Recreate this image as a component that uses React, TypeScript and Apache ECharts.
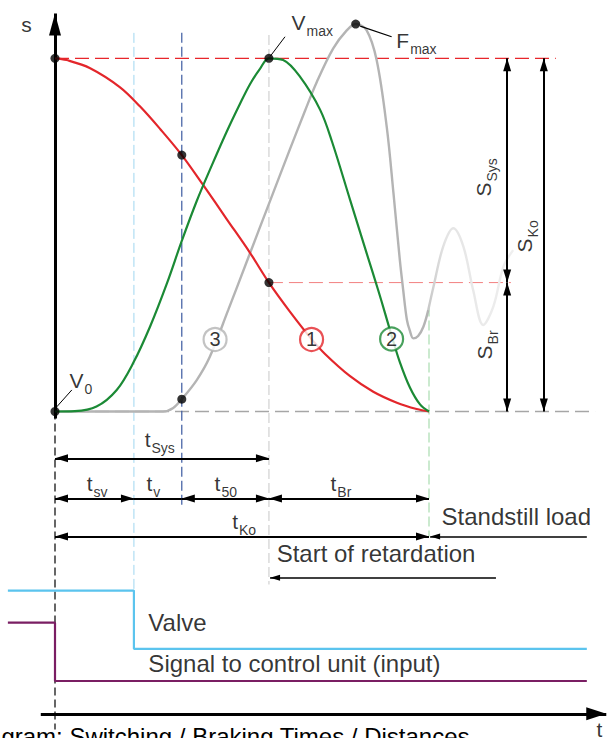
import React, { useEffect, useRef } from "react";
import * as echarts from "echarts";

const FONT = '"Liberation Sans", Arial, Helvetica, sans-serif';

// t: % of t_Ko (0 = signal, 100 = standstill), s: % of s_Ko
const redCurve = [[0,100],[3.1,99.5],[9.4,97.2],[17.4,91.8],[22.7,86.4],[28.1,80.0],[33.9,72.6],[39.7,64.0],[45.9,54.5],[52.1,45.0],[57.2,36.5],[62.8,28.3],[68.6,20.5],[72.2,16.3],[78.9,10.0],[85.1,5.6],[91.4,2.5],[96.7,0.7],[100,0]];
const greenCurve = [[0,0],[5.3,0.1],[11.1,1.4],[16.5,6.1],[20.9,13.7],[25.4,24.0],[29.9,36.2],[33.9,48.3],[37.9,59.6],[41.9,69.6],[45.9,79.2],[49.5,87.2],[52.1,92.6],[54.8,97.0],[57.2,100],[61.0,99.5],[65.5,94.8],[70.9,85.4],[74.1,76.3],[78.9,59.9],[83.3,44.9],[86.4,34.4],[88.2,28.0],[90.0,21.5],[92.2,14.0],[94.9,6.8],[97.6,2.0],[100,0]];
const greyCurve = [[0,0],[28.9,0],[31.6,1.0],[33.9,3.5],[37.9,8.9],[41.4,15.5],[46.3,28.7],[51.7,43.6],[57.2,58.8],[62.8,74.2],[66.8,85.0],[70.0,93.3],[74.4,102.8],[78.0,107.9],[80.4,109.7],[83.3,108.0],[86.0,99.5],[88.7,80.6],[90.5,61.8],[92.2,42.9],[93.1,34.4],[94.1,25.9],[94.9,22.8],[95.8,20.7],[97.1,21.4],[98.5,24.0],[99.8,28.7]];
const greyDecay = [[99.8,28.7],[101.2,35.3],[103.8,46.7],[106.5,51.9],[109.2,46.7],[111.8,34.4],[114.5,24.5],[117.2,29.7],[119.9,41.0],[122.5,45.7]];
const keyPoints = [[0,100],[33.9,72.6],[57.2,36.5],[57.2,100],[80.4,109.7],[33.9,3.5],[0,0]];

const numberMarks = [[42.8,20.4],[68.6,20.4],[90.0,20.5]];
const numberNames = ["3", "1", "2"];
const numberColors = ["#b4b4b4", "#e3262b", "#1b8a35"];

// phase boundaries: start, end t_sv, end t_v, end t_50 (start of retardation), end t_Br (standstill)
const phaseTimes = [0, 21.1, 33.9, 57.2, 100];
// distance levels: rest, s_Br start, s_Ko
const levels = [0, 36.5, 100];

const valveSignal = [[-12.6,-50.7],[21.1,-50.7],[21.1,-67.2],[142.2,-67.2]];
const controlSignal = [[-12.6,-59.8],[0,-59.8],[0,-76.3],[142.2,-76.3]];

const leaderVmax = [[57.5,100.5],[61.5,106.1]];
const leaderFmax = [[81.6,109.1],[90.0,106.1]];
const leaderV0 = [[0.45,1.3],[4.5,6.1]];

const labelTexts = [
  "{m|s}", "{m|V}{s|max}", "{m|F}{s|max}", "{m|V}{s|0}",
  "{m|t}{s|Sys}", "{m|t}{s|sv}", "{m|t}{s|v}", "{m|t}{s|50}", "{m|t}{s|Br}", "{m|t}{s|Ko}",
  "{m|S}{s|Sys}", "{m|S}{s|Br}", "{m|S}{s|Ko}",
  "{w|Standstill load}", "{w|Start of retardation}", "{w|Valve}", "{w|Signal to control unit (input)}", "{m|t}",
];
const labelAnchors = [
  [-8.9,109.3],[63.4,110.1],[91.4,104.8],[4.0,8.5],
  [24.1,-8.2],[8.6,-20.4],[24.6,-20.4],[42.8,-20.4],[73.8,-20.4],[47.5,-31.2],
  [114.8,60.7],[115.0,14.6],[125.7,44.9],
  [103.5,-29.9],[59.4,-40.4],[25.1,-59.8],[25.1,-71.6],[144.9,-90.3],
];
const labelRotations = [0,0,0,0, 0,0,0,0,0,0, 90,90,90, 0,0,0,0,0];

const TITLE = "Diagram: Switching / Braking Times / Distances";

function poly(data: number[][], color: any, width: number, dash: any = "solid", z = 3, smooth: any = false) {
  return {
    type: "line", data, symbol: "none", silent: true, z, smooth,
    lineStyle: { color, width, type: dash }, emphasis: { disabled: true },
  };
}

function arrow(from: number[], to: number[], a0: boolean, a1: boolean, size = [8, 13], width = 2) {
  const end = (coord: number[], on: boolean) => ({
    coord, symbol: on ? "triangle" : "none", symbolSize: size, symbolOffset: [0, size[1] / 2],
  });
  return {
    type: "line", data: [], silent: true, z: 6,
    markLine: {
      silent: true, animation: false, label: { show: false }, emphasis: { disabled: true },
      lineStyle: { color: "#000", width, type: "solid" },
      itemStyle: { color: "#000" },
      data: [[end(from, a0), end(to, a1)]],
    },
  };
}

export default function App() {
  const ref = useRef<HTMLDivElement>(null);
  useEffect(() => {
    document.body.style.margin = "0";
    const chart = echarts.init(ref.current!, undefined, { renderer: "svg" });
    const [t0, tSv, tV, t50, tBr] = phaseTimes;
    const [s0, sBr, sKo] = levels;
    const rowSys = -13.25, rowPhase = -24.6, rowKo = -35.4, rowRet = -47.1;
    const colSys = 120.9, colKo = 130.7;

    const series: any[] = [
      // guide lines
      poly([[t0, sKo], [133.9, sKo]], "#e8262b", 1.3, [14, 6], 2),
      poly([[t50, sBr], [121.9, sBr]], "#f28080", 1, [14, 6], 2),
      poly([[t0, s0], [144.4, s0]], "#a6a6a6", 1.5, [14, 6], 2),
      poly([[tSv, 107.2], [tSv, -50.5]], "#9fd6f0", 1, [10, 4], 2),
      poly([[tV, 107.2], [tV, -27.3]], "#3b5aa0", 1.2, [10, 4], 2),
      poly([[t50, 106.6], [t50, -49]], "#dadada", 1.5, [10, 4], 2),
      poly([[tBr, 29.7], [tBr, -35.4]], "#a9dcb0", 1.2, [10, 4], 2),
      poly([[t0, s0], [t0, -90]], "#000", 1.2, [8, 4], 2),
      // signals
      poly(valveSignal, "#5bc4ee", 2.2, "solid", 3),
      poly(controlSignal, "#7a1e63", 2.2, "solid", 3),
      // curves
      poly(greyDecay, new echarts.graphic.LinearGradient(0, 0, 1, 0, [
        { offset: 0, color: "#c8c8c8" }, { offset: 0.2, color: "#e4e4e4" }, { offset: 1, color: "#efefef" },
      ]), 2.4, "solid", 4, 0.35),
      poly(greyCurve, "#b4b4b4", 2.4, "solid", 4, 0.35),
      poly(redCurve, "#e3262b", 2.2, "solid", 5, 0.35),
      poly(greenCurve, "#1b8a35", 2.2, "solid", 5, 0.35),
      // leaders
      poly(leaderVmax, "#000", 1, "solid", 6),
      poly(leaderFmax, "#000", 1.3, "solid", 6),
      poly(leaderV0, "#000", 1, "solid", 6),
      // axes
      arrow([t0, -2], [t0, 112.7], false, true, [12, 22], 3),
      arrow([-3.8, -85.6], [147.4, -85.6], false, true, [13, 20], 3),
      // time dimensions
      arrow([t0, rowSys], [t50, rowSys], true, true),
      arrow([t0, rowPhase], [tSv, rowPhase], true, true),
      arrow([tSv, rowPhase], [tV, rowPhase], false, false),
      arrow([tV, rowPhase], [t50, rowPhase], true, true),
      arrow([t50, rowPhase], [tBr, rowPhase], true, true),
      arrow([t0, rowKo], [tBr, rowKo], true, true),
      arrow([142.2, rowKo], [tBr + 0.3, rowKo], false, true, [6, 10], 1.5),
      arrow([117.9, rowRet], [t50 + 0.3, rowRet], false, true, [6, 10], 1.5),
      // distance dimensions
      arrow([colSys, sKo], [colSys, sBr], true, true),
      arrow([colSys, sBr], [colSys, s0], true, true),
      arrow([colKo, sKo], [colKo, s0], true, true),
      // numbered markers
      {
        type: "scatter", z: 9, silent: true, symbol: "circle", symbolSize: 23,
        data: numberMarks.map((p, i) => ({
          value: p,
          itemStyle: { color: "#fff", borderColor: numberColors[i], borderWidth: 2.2 },
          label: { show: true, position: "inside", formatter: numberNames[i], color: "#000", fontSize: 20, fontFamily: FONT },
        })),
      },
      // key points
      {
        type: "scatter", z: 10, silent: true, symbol: "circle", symbolSize: 9,
        itemStyle: { color: "#000" }, data: keyPoints,
      },
      // labels
      {
        type: "scatter", z: 12, silent: true, symbolSize: 1, clip: false,
        itemStyle: { color: "rgba(0,0,0,0)" },
        data: labelAnchors.map((p, i) => ({
          value: p,
          label: {
            show: true, position: [0, 0], align: "left", verticalAlign: "middle",
            rotate: labelRotations[i], formatter: labelTexts[i],
            rich: {
              m: { fontSize: 21, fontFamily: FONT, color: "#000" },
              s: { fontSize: 14, fontFamily: FONT, color: "#000", padding: [17, 0, 0, 1] },
              w: { fontSize: 24, fontFamily: FONT, color: "#000" },
            },
          },
        })),
      },
    ];

    chart.setOption({
      animation: false,
      title: {
        text: TITLE, right: 137, top: 724, padding: 0,
        textStyle: { fontSize: 24, fontWeight: "normal", color: "#000", fontFamily: FONT },
      },
      grid: { left: 2.64, right: 0.35, top: 5.32, bottom: 1.56 },
      xAxis: { type: "value", min: -14, max: 147.5, show: false },
      yAxis: { type: "value", min: -92, max: 115, show: false },
      series,
    });
    return () => chart.dispose();
  }, []);
  return <div ref={ref} style={{ width: 607, height: 738 }} />;
}
